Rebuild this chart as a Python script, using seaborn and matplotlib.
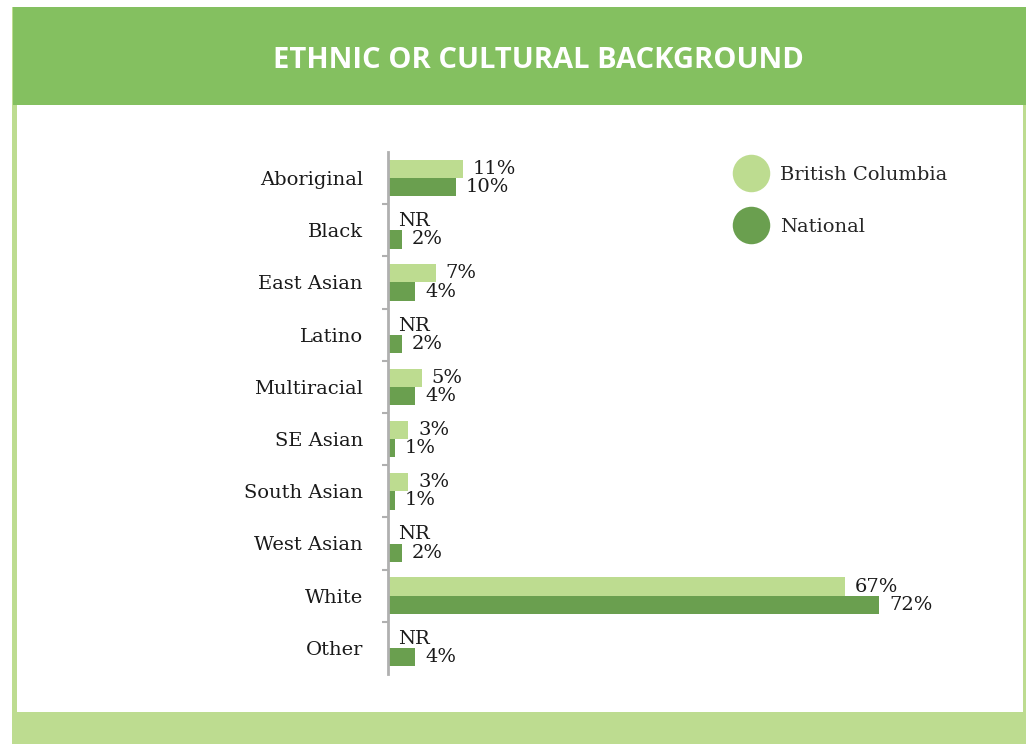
import numpy as np
import pandas as pd
import seaborn as sns
import matplotlib
matplotlib.use("Agg")
import matplotlib.pyplot as plt
from matplotlib.patches import Rectangle
from matplotlib.lines import Line2D

# Survey data: share of respondents by ethnic or cultural background (%)
categories = ["Aboriginal", "Black", "East Asian", "Latino", "Multiracial",
              "SE Asian", "South Asian", "West Asian", "White", "Other"]
bc_values = [11, None, 7, None, 5, 3, 3, None, 67, None]   # None = not reported
national_values = [10, 2, 4, 2, 4, 1, 1, 2, 72, 4]
series_names = ["British Columbia", "National"]
title = "ETHNIC OR CULTURAL BACKGROUND"

LIGHT = "#BDDC90"
DARK = "#6A9F4F"
HEADER = "#84C060"

sns.set_theme(style="white")
plt.rcParams["font.family"] = ["DejaVu Serif"]

W, H = 1026, 744
fig = plt.figure(figsize=(W / 100, H / 100), dpi=100)
fig.patch.set_facecolor("white")


def px_rect(x0, y0, x1, y1, color):
    fig.patches.append(Rectangle((x0 / W, 1 - y1 / H), (x1 - x0) / W, (y1 - y0) / H,
                                 transform=fig.transFigure, facecolor=color,
                                 edgecolor="none", zorder=-10))


# Panel frame, header band and white body
px_rect(12, 7, 1026, 744, LIGHT)
px_rect(17, 105, 1023, 712, "white")
px_rect(13, 7, 1026, 105, HEADER)
fig.text(538 / W, 1 - 60 / H, title, ha="center", va="center", color="white",
         fontsize=21, fontweight="bold", family="Open Sans")

# Plot area
ax_left, ax_right, ax_top, ax_bottom = 388, 1002, 152, 674
ax = fig.add_axes([ax_left / W, 1 - ax_bottom / H, (ax_right - ax_left) / W,
                   (ax_bottom - ax_top) / H])
ax.set_facecolor("none")
ax.set_zorder(5)

df = pd.DataFrame({
    "category": categories * 2,
    "series": [series_names[0]] * len(categories) + [series_names[1]] * len(categories),
    "value": [np.nan if v is None else v for v in bc_values] + list(national_values),
})
df["plotted"] = df["value"].fillna(0)

sns.barplot(data=df, y="category", x="plotted", hue="series", order=categories,
            hue_order=series_names, palette=[LIGHT, DARK], orient="h",
            width=0.7, ax=ax, legend=False, saturation=1, errorbar=None,
            linewidth=0, edgecolor="none")

ax.set_xlim(0, 90)
ax.set_ylim(len(categories) - 0.5, -0.5)
ax.set_xlabel("")
ax.set_ylabel("")
ax.set_xticks([])
ax.tick_params(axis="y", which="major", left=False, length=0, pad=18,
               labelsize=14, labelcolor="#1a1a1a")

# Category separators on the axis
ax.set_yticks(np.arange(len(categories) - 1) + 0.5, minor=True)
ax.tick_params(axis="y", which="minor", left=True, length=4, width=1.5,
               color="#b0b0b0", direction="out")

for side in ["top", "right", "bottom"]:
    ax.spines[side].set_visible(False)
ax.spines["left"].set_color("#b0b0b0")
ax.spines["left"].set_linewidth(2)

# Value labels
for container, vals in zip(ax.containers, [bc_values, national_values]):
    labels = ["NR" if v is None else f"{v}%" for v in vals]
    ax.bar_label(container, labels=labels, padding=7, fontsize=14,
                 color="#1a1a1a")

# Legend
handles = [Line2D([], [], marker="o", linestyle="", markersize=27,
                  markerfacecolor=c, markeredgecolor="none")
           for c in (LIGHT, DARK)]
fig.legend(handles, series_names, loc="upper left",
           bbox_to_anchor=(728 / W, 1 - 158 / H), frameon=False,
           fontsize=14, labelspacing=1.75, handletextpad=0.7,
           handlelength=1.6, borderaxespad=0)

fig.savefig("out.png", dpi=100)
